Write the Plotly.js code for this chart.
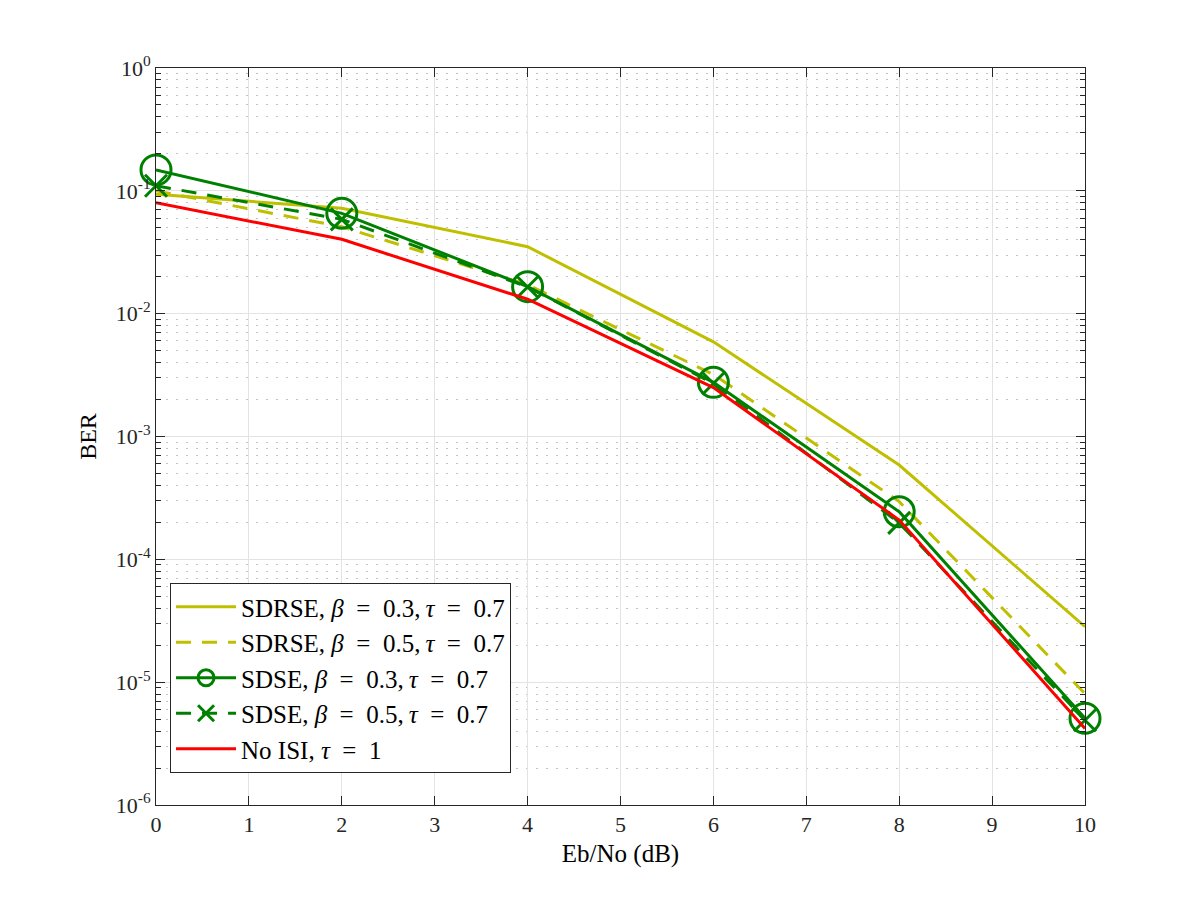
<!DOCTYPE html>
<html>
<head>
<meta charset="utf-8">
<script src="https://cdn.plot.ly/plotly-3.0.1.min.js"></script>
<style>
  html, body { margin: 0; padding: 0; background: #ffffff; }
  #chart { width: 1200px; height: 900px; }
</style>
</head>
<body>
<div id="chart"></div>
<script>
// Eb/No values (dB)
const ebno = [0, 2, 4, 6, 8, 10];

// Bit error rates per scheme
const sdrse_b03 = [0.0937, 0.072, 0.0351, 0.0059, 0.000586, 0.0000283];
const sdrse_b05 = [0.100, 0.051, 0.0172, 0.0032, 0.000295, 0.00000805];
const sdse_b03  = [0.148, 0.0656, 0.0166, 0.00276, 0.000244, 0.00000508];
const sdse_b05  = [0.110, 0.0586, 0.0165, 0.0027, 0.000198, 0.0000049];
const no_isi    = [0.080, 0.0403, 0.0131, 0.0025, 0.000209, 0.0000042];

// Trace names (math-style spacing around the equals signs)
const EQ = '\u2002=\u2002';
const names = [
  'SDRSE, <i>β</i>' + EQ + '0.3,\u2009<i>τ</i>' + EQ + '0.7',
  'SDRSE, <i>β</i>' + EQ + '0.5,\u2009<i>τ</i>' + EQ + '0.7',
  'SDSE, <i>β</i>' + EQ + '0.3,\u2009<i>τ</i>' + EQ + '0.7',
  'SDSE, <i>β</i>' + EQ + '0.5,\u2009<i>τ</i>' + EQ + '0.7',
  'No ISI, <i>τ</i>' + EQ + '1'
];

// Decade ticks on the BER axis
const decadeExp = [-6, -5, -4, -3, -2, -1, 0];
const decadeVals = decadeExp.map(e => Math.pow(10, e));
const decadeText = decadeExp.map(e => '10<sup>' + e + '</sup>');
const minorVals = [];
decadeExp.slice(0, -1).forEach(e => {
  for (let m = 2; m <= 9; m++) minorVals.push(m * Math.pow(10, e));
});

const SERIF = "'Liberation Serif', 'DejaVu Serif', serif";
const yellow = '#bfbf00';
const green = '#008000';
const red = '#ff0000';
const dashPat = '15px,11px';

const traces = [
  { x: ebno, y: sdrse_b03, name: names[0], mode: 'lines', cliponaxis: false,
    line: { color: yellow, width: 3 } },
  { x: ebno, y: sdrse_b05, name: names[1], mode: 'lines', cliponaxis: false,
    line: { color: yellow, width: 3, dash: dashPat } },
  { x: ebno, y: sdse_b03, name: names[2], mode: 'lines+markers', cliponaxis: false,
    line: { color: green, width: 3 },
    marker: { symbol: 'circle-open', size: 30, color: green, line: { width: 3, color: green } } },
  { x: ebno, y: sdse_b05, name: names[3], mode: 'lines+markers', cliponaxis: false,
    line: { color: green, width: 3, dash: dashPat },
    marker: { symbol: 'x-thin-open', size: 22, color: green, line: { width: 3, color: green } } },
  { x: ebno, y: no_isi, name: names[4], mode: 'lines', cliponaxis: false,
    line: { color: red, width: 3 } }
];

const axisCommon = {
  showline: true,
  linecolor: '#262626',
  linewidth: 1,
  mirror: 'ticks',
  ticks: 'inside',
  tickcolor: '#262626',
  tickfont: { family: SERIF, size: 22, color: '#262626' },
  zeroline: false
};

const layout = {
  width: 1200,
  height: 900,
  paper_bgcolor: '#ffffff',
  plot_bgcolor: '#ffffff',
  margin: { l: 156, r: 115, t: 68, b: 95 },
  showlegend: true,
  font: { family: SERIF, color: '#000000' },
  xaxis: Object.assign({}, axisCommon, {
    range: [0, 10],
    dtick: 1,
    tick0: 0,
    ticklen: 9,
    showgrid: true,
    gridcolor: '#e3e3e3',
    gridwidth: 1,
    title: { text: 'Eb/No (dB)', font: { family: SERIF, size: 25, color: '#000000' }, standoff: 8 }
  }),
  yaxis: Object.assign({}, axisCommon, {
    type: 'log',
    range: [-6, 0],
    tickmode: 'array',
    tickvals: decadeVals,
    ticktext: decadeText,
    ticklen: 9,
    showgrid: true,
    gridcolor: '#e3e3e3',
    gridwidth: 1,
    minor: {
      tickmode: 'array',
      tickvals: minorVals,
      ticks: 'inside',
      ticklen: 5,
      tickcolor: '#262626',
      showgrid: true,
      gridcolor: '#c4c4c4',
      griddash: '2px,8px',
      gridwidth: 1
    },
    title: { text: 'BER', font: { family: SERIF, size: 24, color: '#000000' }, standoff: 12 }
  }),
  legend: {
    x: 0.0151,
    y: 0.0434,
    xanchor: 'left',
    yanchor: 'bottom',
    bgcolor: '#ffffff',
    bordercolor: '#262626',
    borderwidth: 1,
    font: { family: SERIF, size: 25, color: '#000000' },
    itemwidth: 60
  }
};

Plotly.newPlot('chart', traces, layout, { displayModeBar: false, staticPlot: true });
</script>
</body>
</html>
